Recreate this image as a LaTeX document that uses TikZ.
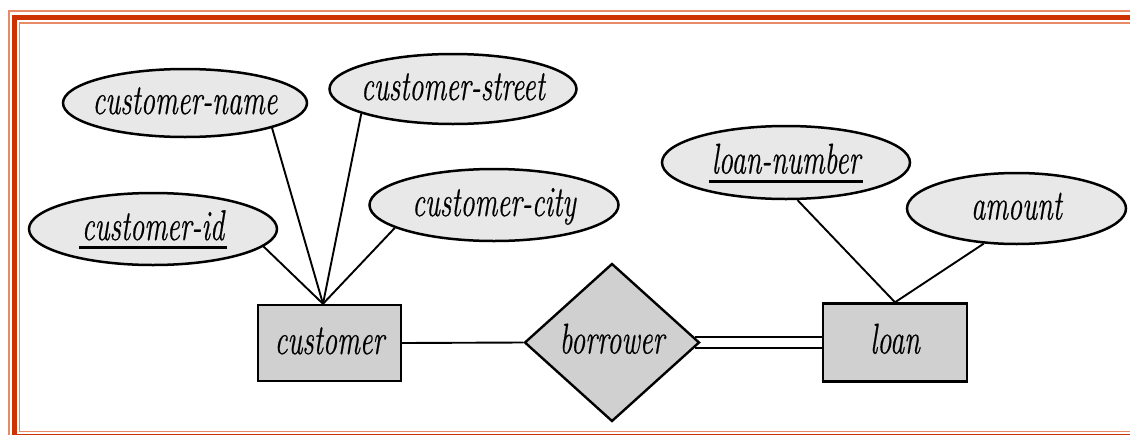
\documentclass[tikz,border=0pt]{standalone}
\usepackage{fontspec}
\usetikzlibrary{shapes.geometric}
\newfontfamily\lblfont{Latin Modern Roman}[FakeBold=0.6]
\definecolor{framedark}{HTML}{CC3300}
\definecolor{framelight}{HTML}{E88A68}
\definecolor{attrfill}{HTML}{E8E8E8}
\definecolor{entfill}{HTML}{D0D0D0}
\newcommand{\cnd}[1]{\scalebox{0.66}[1]{#1}}
\newcommand{\keyul}[1]{\setbox0=\hbox{#1}\rlap{\kern-3pt\raisebox{-9pt}{\rule{\dimexpr\wd0+6pt\relax}{2.6pt}}}\box0}
\tikzset{
  lbl/.style={font=\lblfont\fontsize{43}{50}\selectfont\itshape, text height=31pt, text depth=9pt, inner sep=0pt, text=black},
  attr/.style={ellipse, draw, line width=2.5pt, fill=attrfill, inner sep=0pt},
  ent/.style={rectangle, draw, line width=2.4pt, fill=entfill, inner sep=0pt},
  relship/.style={diamond, draw, line width=2.4pt, fill=entfill, inner sep=0pt},
  conn/.style={line width=1.9pt},
}
\begin{document}
\begin{tikzpicture}[x=1pt,y=-1pt]
\useasboundingbox (0,0) rectangle (1130,434);
\begin{scope}
\clip (0,0) rectangle (1130,434);
\draw[framelight, line width=1.5pt] (9,11) rectangle (1145,442);
\draw[framedark, line width=5pt] (14.5,17.5) rectangle (1140,436);
\draw[framelight, line width=1.5pt] (19.5,23) rectangle (1135,431.5);
\end{scope}

\node[attr, minimum width=244pt, minimum height=68pt, label={[lbl]center:\cnd{customer-name}}] (cname) at (185,103) {};
\node[attr, minimum width=247pt, minimum height=70pt, label={[lbl]center:\cnd{customer-street}}] (cstreet) at (453,89) {};
\node[attr, minimum width=249pt, minimum height=72pt, label={[lbl]center:\cnd{customer-city}}] (ccity) at (494,205) {};
\node[attr, minimum width=248pt, minimum height=72pt, label={[lbl]center:\keyul{\cnd{customer-id}}}] (cid) at (153,229) {};
\node[ent, minimum width=143pt, minimum height=76pt, label={[lbl]center:\cnd{customer}}] (customer) at (329.5,343) {};
\node[relship, minimum width=175pt, minimum height=158pt, label={[lbl]center:\cnd{borrower}}] (borrower) at (612,342.5) {};
\node[ent, minimum width=144pt, minimum height=78pt, label={[lbl]center:\cnd{loan}}] (loan) at (895,342.5) {};
\node[attr, minimum width=248pt, minimum height=73pt, label={[lbl]center:\keyul{\cnd{loan-number}}}] (lnum) at (786,162.5) {};
\node[attr, minimum width=219pt, minimum height=71pt, label={[lbl]center:\cnd{amount}}] (amount) at (1016.5,208.5) {};

\coordinate (ctop) at ([xshift=-6.5pt]customer.north);
\draw[conn] (ctop) -- (cname.-16);
\draw[conn] (ctop) -- (cstreet.195);
\draw[conn] (ctop) -- (ccity.193);
\draw[conn] (ctop) -- (cid.-9);
\draw[conn] (loan.north) -- (lnum.-73);
\draw[conn] (loan.north) -- (amount.227);
\draw[conn] (customer.east) -- (borrower.west);
\draw[conn] ([shift={(-6pt,5.75pt)}]borrower.east) -- ([yshift=5.75pt]loan.west);
\draw[conn] ([shift={(-6pt,-5.75pt)}]borrower.east) -- ([yshift=-5.75pt]loan.west);
\end{tikzpicture}
\end{document}
